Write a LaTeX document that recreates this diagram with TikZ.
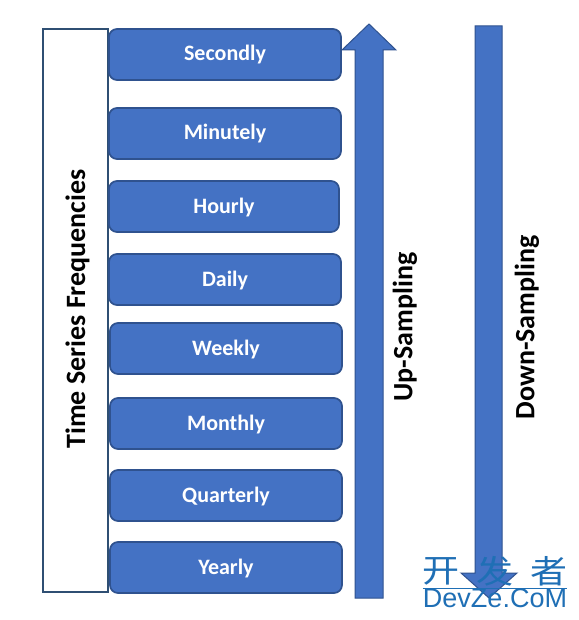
\documentclass[tikz,border=0pt]{standalone}
\usepackage{fontspec}
\setmainfont{Carlito}
\newfontfamily\cjkwm{Noto Sans CJK SC}
\newfontfamily\latinwm{Liberation Sans}
\definecolor{fillblue}{HTML}{4472C4}
\definecolor{edgeblue}{HTML}{2F528F}
\definecolor{darkedge}{HTML}{2F4F73}
\definecolor{wmblue}{HTML}{1F6FB5}
\tikzset{
  freq/.style={draw=edgeblue,line width=1.7pt,fill=fillblue,rounded corners=8pt,text=white,font=\bfseries\fontsize{22}{26}\selectfont,inner sep=0pt,text height=17pt,text depth=4pt,anchor=center},
  arrowshape/.style={draw=edgeblue,line width=1pt,fill=fillblue},
  sidelabel/.style={rotate=90,text=black,font=\bfseries\fontsize{28}{32}\selectfont,inner sep=0pt},
  wmcjk/.style={text=wmblue,font=\cjkwm\fontsize{37}{40}\selectfont,inner sep=0pt},
  wmlatin/.style={text=wmblue,font=\latinwm\fontsize{27}{32}\selectfont,inner sep=0pt}
}
\begin{document}
\begin{tikzpicture}[x=1pt,y=-1pt]
\useasboundingbox (0,0) rectangle (578,620);
\fill[white] (0,0) rectangle (578,620);
\node[draw=darkedge,line width=1.7pt,fill=white,minimum width=65pt,minimum height=563pt,inner sep=0pt] (frame) at (75.5,310.5) {};
\node[sidelabel] (framelabel) at (77.5,309) {Time Series Frequencies};
\node[freq,minimum width=232pt,minimum height=51pt] (s) at (225,54.5) {Secondly};
\node[freq,minimum width=232pt,minimum height=51pt] (mi) at (225,133.5) {Minutely};
\node[freq,minimum width=230pt,minimum height=51pt] (h) at (224,206.5) {Hourly};
\node[freq,minimum width=232pt,minimum height=51pt] (d) at (225,279.5) {Daily};
\node[freq,minimum width=232pt,minimum height=51pt] (w) at (226,348.5) {Weekly};
\node[freq,minimum width=232pt,minimum height=51pt] (mo) at (226,423.5) {Monthly};
\node[freq,minimum width=232pt,minimum height=51pt] (q) at (226,495.5) {Quarterly};
\node[freq,minimum width=232pt,minimum height=51pt] (y) at (226,567.5) {Yearly};
\draw[arrowshape] (369,24) -- (396,50) -- (383,50) -- (383,598) -- (355,598) -- (355,50) -- (342,50) -- cycle;
\node[sidelabel] (up) at (405,327) {Up-Sampling};
\draw[arrowshape] (475,26) -- (502,26) -- (502,573) -- (517,573) -- (489,598) -- (461,573) -- (475,573) -- cycle;
\node[sidelabel] (down) at (527,327.5) {Down-Sampling};
\node[wmcjk] (wa) at (441,571) {\scalebox{1}[.87]{开}};
\node[wmcjk] (wb) at (495,571) {\scalebox{1}[.87]{发}};
\node[wmcjk] (wc) at (549,571) {\scalebox{1}[.87]{者}};
\node[wmlatin] (wd) at (495,598) {DevZe.CoM};
\draw[wmblue,line width=.6pt] (wd.north west) -- (wd.north east);
\end{tikzpicture}
\end{document}
